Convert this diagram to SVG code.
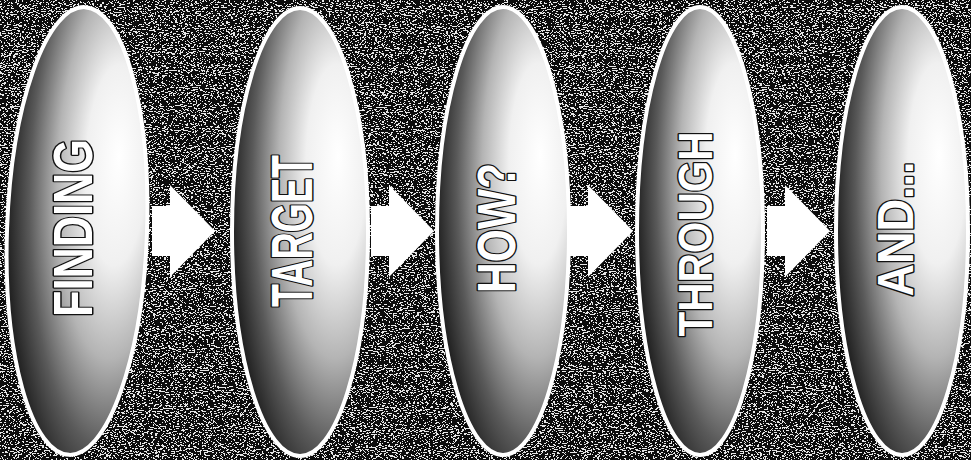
<svg xmlns="http://www.w3.org/2000/svg" width="971" height="460" viewBox="0 0 971 460">
<style>
.oval{fill:url(#ovalGrad);stroke:#ffffff;stroke-width:4}
.lbl{font-family:"Liberation Sans","DejaVu Sans",Arial,sans-serif;font-weight:bold;fill:#ffffff;stroke:#111111;stroke-width:3;paint-order:stroke;stroke-linejoin:round}
.arrow{fill:#ffffff}
</style>
<defs>
<radialGradient id="ovalGrad" cx="0.74" cy="0.4" r="0.8" fx="0.78" fy="0.33">
<stop offset="0" stop-color="#ffffff"/>
<stop offset="0.28" stop-color="#f0f0f0"/>
<stop offset="0.52" stop-color="#b4b4b4"/>
<stop offset="0.75" stop-color="#5a5a5a"/>
<stop offset="0.92" stop-color="#262626"/>
<stop offset="1" stop-color="#111111"/>
</radialGradient>
<filter id="grain" x="0" y="0" width="971" height="460" filterUnits="userSpaceOnUse">
<feTurbulence type="fractalNoise" baseFrequency="0.45 0.95" numOctaves="2" seed="7" result="n"/>
<feColorMatrix in="n" type="matrix" values="0 0 0 0 1  0 0 0 0 1  0 0 0 0 1  4 0 0 0 -1.8"/>
<feComponentTransfer><feFuncA type="discrete" tableValues="0 1"/></feComponentTransfer>
</filter>
<path id="arr" d="M0,-25 H18 V-46 L63,0 L18,46 V25 H0 Z"/>
</defs>
<rect x="0" y="0" width="971" height="460" fill="#0c0c0c"/>
<rect x="0" y="0" width="971" height="460" fill="#ffffff" filter="url(#grain)" opacity="0.9"/>
<g id="connectors">
<use href="#arr" class="arrow" transform="translate(152,231)"/>
<use href="#arr" class="arrow" transform="translate(371,231)"/>
<use href="#arr" class="arrow" transform="translate(570,231)"/>
<use href="#arr" class="arrow" transform="translate(767,231)"/>
</g>
<g id="n1">
<ellipse class="oval" cx="77" cy="231" rx="70" ry="224" transform="rotate(2 77 231)"/>
<text class="lbl" transform="translate(92,228) rotate(-90)" text-anchor="middle" font-size="56" textLength="178" lengthAdjust="spacingAndGlyphs">FINDING</text>
</g>
<g id="n2">
<ellipse class="oval" cx="300" cy="232" rx="68" ry="224"/>
<text class="lbl" transform="translate(312,231) rotate(-90)" text-anchor="middle" font-size="58" textLength="152" lengthAdjust="spacingAndGlyphs">TARGET</text>
</g>
<g id="n3">
<ellipse class="oval" cx="503" cy="231" rx="66" ry="224"/>
<text class="lbl" transform="translate(515,228) rotate(-90)" text-anchor="middle" font-size="54" textLength="130" lengthAdjust="spacingAndGlyphs">HOW?</text>
</g>
<g id="n4">
<ellipse class="oval" cx="700" cy="231" rx="63" ry="224"/>
<text class="lbl" transform="translate(712,234) rotate(-90)" text-anchor="middle" font-size="48" textLength="205" lengthAdjust="spacingAndGlyphs">THROUGH</text>
</g>
<g id="n5">
<ellipse class="oval" cx="902" cy="231" rx="66" ry="224"/>
<text class="lbl" transform="translate(913,229) rotate(-90)" text-anchor="middle" font-size="50" textLength="135" lengthAdjust="spacingAndGlyphs">AND...</text>
</g>
</svg>
